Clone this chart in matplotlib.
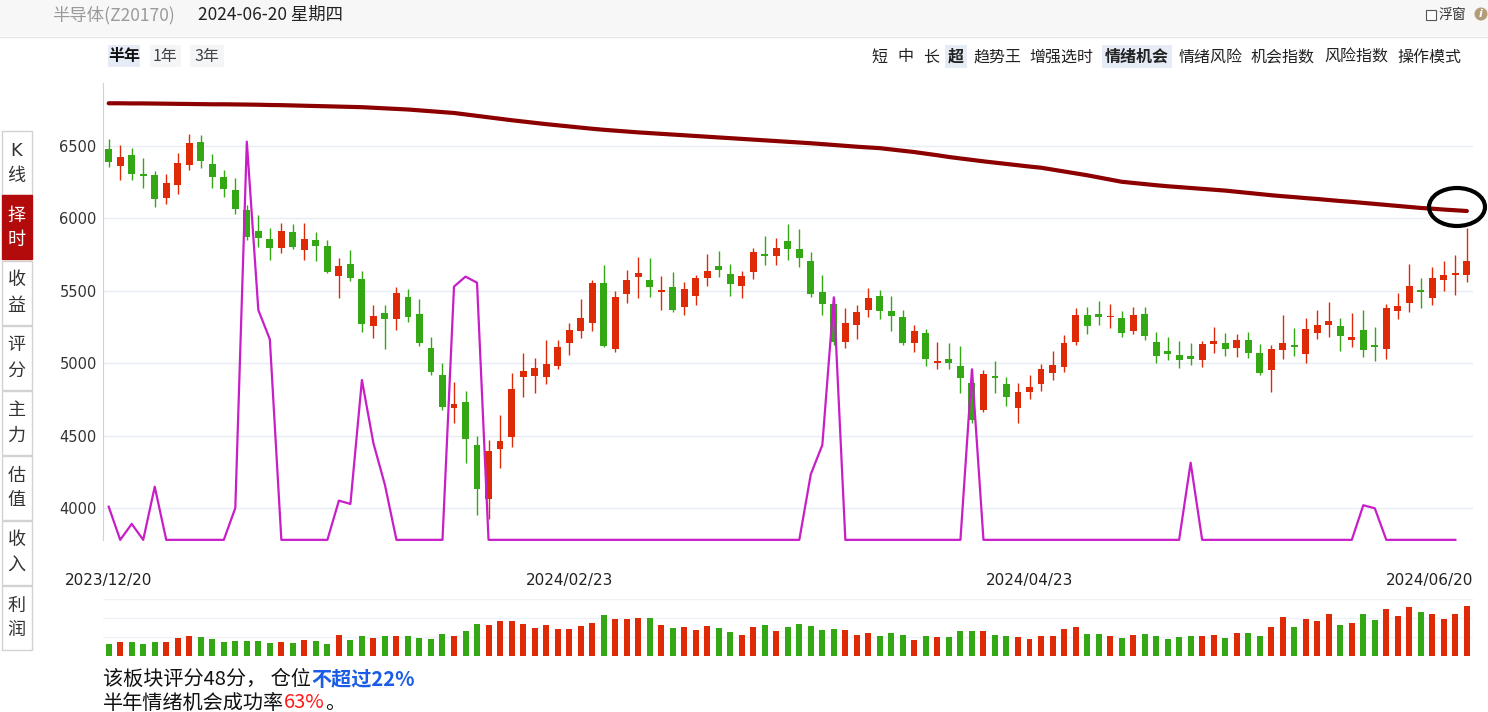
import matplotlib
matplotlib.use("Agg")
import matplotlib.pyplot as plt
import matplotlib.transforms as mtransforms
from matplotlib.patches import Rectangle, Ellipse
from matplotlib.lines import Line2D

plt.rcParams['font.family'] = ['Noto Sans CJK SC', 'DejaVu Sans']

# ---- data ----
dates = ["2023/12/20", "2024/02/23", "2024/04/23", "2024/06/20"]
date_idx = [0, 40, 80, 118]

opens = [6477, 6364, 6436, 6298, 6297, 6143, 6233, 6371, 6525, 6373,
         6284, 6196, 6058, 5913, 5855, 5798, 5904, 5782, 5849, 5809,
         5604, 5685, 5579, 5259, 5344, 5303, 5455, 5337, 5103, 4916,
         4693, 4730, 4433, 4064, 4405, 4493, 4907, 4914, 4907, 4983,
         5142, 5225, 5280, 5554, 5100, 5480, 5598, 5575, 5494, 5526,
         5390, 5466, 5591, 5671, 5616, 5535, 5632, 5756, 5743, 5844,
         5789, 5706, 5492, 5409, 5149, 5266, 5370, 5462, 5361, 5317,
         5137, 5206, 5004, 5029, 4981, 4863, 4679, 4912, 4856, 4693,
         4803, 4854, 4935, 4976, 5149, 5331, 5337, 5318, 5310, 5225,
         5337, 5144, 5082, 5054, 5047, 5024, 5135, 5137, 5107, 5158,
         5068, 4951, 5089, 5123, 5066, 5211, 5266, 5255, 5163, 5227,
         5123, 5096, 5358, 5413, 5506, 5453, 5577, 5611, 5611]
highs = [6546, 6505, 6484, 6415, 6327, 6304, 6452, 6583, 6574, 6445,
         6334, 6277, 6093, 6024, 5931, 5966, 5962, 5966, 5904, 5851,
         5724, 5782, 5635, 5400, 5400, 5526, 5510, 5443, 5179, 4999,
         4868, 4808, 4497, 4470, 4642, 4930, 5068, 5034, 5160, 5160,
         5275, 5443, 5575, 5678, 5499, 5644, 5733, 5727, 5602, 5630,
         5561, 5609, 5754, 5775, 5685, 5637, 5796, 5878, 5865, 5961,
         5927, 5768, 5609, 5459, 5381, 5402, 5519, 5506, 5464, 5367,
         5262, 5236, 5144, 5140, 5119, 4958, 4951, 5015, 4905, 4861,
         4919, 4994, 5084, 5192, 5381, 5386, 5430, 5409, 5361, 5386,
         5386, 5213, 5179, 5151, 5137, 5151, 5250, 5206, 5199, 5213,
         5130, 5123, 5331, 5241, 5310, 5367, 5423, 5312, 5347, 5367,
         5250, 5409, 5483, 5685, 5588, 5662, 5706, 5747, 5936]
lows = [6357, 6265, 6265, 6212, 6081, 6099, 6169, 6334, 6348, 6212,
        6150, 6027, 5851, 5805, 5713, 5763, 5789, 5713, 5708, 5621,
        5453, 5568, 5217, 5176, 5096, 5232, 5287, 5121, 4921, 4679,
        4589, 4313, 3954, 3922, 4274, 4424, 4769, 4792, 4854, 4958,
        5057, 5172, 5225, 5114, 5080, 5418, 5453, 5459, 5367, 5356,
        5335, 5402, 5535, 5598, 5466, 5453, 5584, 5680, 5680, 5713,
        5667, 5459, 5335, 5126, 5107, 5169, 5321, 5308, 5225, 5126,
        5080, 4983, 4962, 4962, 4792, 4585, 4665, 4797, 4707, 4585,
        4753, 4810, 4886, 4942, 5126, 5204, 5266, 5245, 5183, 5204,
        5163, 5004, 5024, 4969, 4990, 4976, 5073, 5052, 5045, 5038,
        4921, 4803, 5031, 5052, 5004, 5169, 5183, 5087, 5114, 5045,
        5017, 5031, 5308, 5356, 5384, 5404, 5501, 5473, 5563]
closes = [6392, 6422, 6309, 6296, 6136, 6242, 6380, 6518, 6399, 6288,
          6205, 6067, 5874, 5867, 5798, 5913, 5805, 5855, 5812, 5628,
          5671, 5591, 5268, 5324, 5303, 5483, 5321, 5142, 4942, 4700,
          4718, 4474, 4129, 4394, 4463, 4820, 4946, 4965, 4994, 5112,
          5229, 5310, 5554, 5121, 5457, 5575, 5623, 5529, 5498, 5370,
          5510, 5588, 5637, 5646, 5549, 5602, 5766, 5743, 5796, 5789,
          5729, 5480, 5411, 5149, 5278, 5351, 5448, 5363, 5328, 5142,
          5220, 5031, 5015, 5004, 4900, 4610, 4925, 4896, 4764, 4799,
          4833, 4958, 4985, 5137, 5331, 5259, 5321, 5322, 5211, 5331,
          5190, 5052, 5066, 5020, 5031, 5130, 5151, 5100, 5158, 5073,
          4935, 5096, 5137, 5110, 5234, 5262, 5289, 5190, 5179, 5093,
          5110, 5379, 5393, 5531, 5489, 5586, 5607, 5623, 5704]

# long moving average (dark red curve)
ma_line = [6795, 6795, 6794, 6794, 6793, 6792, 6791, 6790, 6789, 6788,
           6788, 6787, 6786, 6785, 6783, 6782, 6780, 6778, 6776, 6774,
           6772, 6770, 6768, 6764, 6760, 6756, 6752, 6746, 6740, 6734,
           6728, 6718, 6708, 6698, 6688, 6678, 6669, 6660, 6651, 6643,
           6635, 6627, 6619, 6612, 6606, 6600, 6594, 6589, 6584, 6579,
           6574, 6569, 6564, 6559, 6554, 6549, 6544, 6539, 6534, 6529,
           6524, 6519, 6513, 6507, 6501, 6495, 6490, 6485, 6476, 6467,
           6458, 6447, 6436, 6424, 6414, 6404, 6394, 6385, 6376, 6367,
           6358, 6350, 6337, 6324, 6311, 6298, 6283, 6268, 6253, 6245,
           6237, 6229, 6222, 6216, 6210, 6204, 6198, 6192, 6184, 6176,
           6168, 6160, 6153, 6147, 6140, 6134, 6127, 6120, 6114, 6107,
           6100, 6093, 6086, 6079, 6072, 6067, 6061, 6056, 6051]

# 情绪机会 indicator (magenta), drawn on the price scale
mood = [4009, 3780, 3890, 3780, 4147, 3780, 3780, 3780, 3780, 3780,
        3780, 4000, 6530, 5367, 5165, 3780, 3780, 3780, 3780, 3780,
        4051, 4028, 4884, 4447, 4159, 3780, 3780, 3780, 3780, 3780,
        5529, 5598, 5556, 3780, 3780, 3780, 3780, 3780, 3780, 3780,
        3780, 3780, 3780, 3780, 3780, 3780, 3780, 3780, 3780, 3780,
        3780, 3780, 3780, 3780, 3780, 3780, 3780, 3780, 3780, 3780,
        3780, 4233, 4435, 5455, 3780, 3780, 3780, 3780, 3780, 3780,
        3780, 3780, 3780, 3780, 3780, 4958, 3780, 3780, 3780, 3780,
        3780, 3780, 3780, 3780, 3780, 3780, 3780, 3780, 3780, 3780,
        3780, 3780, 3780, 3780, 4313, 3780, 3780, 3780, 3780, 3780,
        3780, 3780, 3780, 3780, 3780, 3780, 3780, 3780, 3780, 4019,
        3998, 3780, 3780, 3780, 3780, 3780, 3780, 3780]

volume = [12, 14, 14, 12, 14, 14, 18, 20, 19, 17,
          14, 15, 15, 15, 13, 14, 13, 16, 15, 12,
          21, 16, 20, 18, 20, 20, 20, 18, 17, 22,
          20, 25, 32, 31, 35, 35, 32, 28, 31, 27,
          27, 30, 33, 41, 37, 37, 38, 38, 31, 28,
          29, 26, 30, 28, 24, 21, 29, 31, 25, 29,
          32, 30, 26, 27, 26, 21, 23, 20, 23, 21,
          16, 20, 19, 19, 25, 25, 25, 21, 20, 19,
          17, 20, 20, 27, 29, 22, 22, 20, 18, 21,
          22, 20, 17, 19, 20, 20, 21, 18, 23, 23,
          20, 29, 39, 29, 37, 35, 42, 31, 33, 42,
          36, 47, 40, 49, 44, 42, 37, 42, 50]

price_ticks = [4000, 4500, 5000, 5500, 6000, 6500]
tabs = ["K线", "择时", "收益", "评分", "主力", "估值", "收入", "利润"]
periods = ["半年", "1年", "3年"]
menu = ["短", "中", "长", "超", "趋势王", "增强选时", "情绪机会", "情绪风险", "机会指数", "风险指数", "操作模式"]

RED = "#de2a06"
GREEN = "#33a814"
W, H = 1488, 712


def fx(x):
    return x / W


def fy(y):
    return 1 - y / H


fig = plt.figure(figsize=(W / 100, H / 100), dpi=100)

# header band
fig.add_artist(Rectangle((0, fy(36)), 1, 36 / H, transform=fig.transFigure,
                         facecolor="#f7f7f7", edgecolor="none", zorder=0))
fig.add_artist(Line2D([0, 1], [fy(36.5), fy(36.5)], transform=fig.transFigure, color="#e6e6e6", lw=1))
fig.text(fx(52), fy(15), "半导体(Z20170)", fontsize=12.5, color="#9a9a9a", va="center")
fig.text(fx(198), fy(15), "2024-06-20 星期四", fontsize=12.5, color="#222222", va="center")
fig.add_artist(Rectangle((fx(1426), fy(20)), 10 / W, 10 / H, transform=fig.transFigure,
                         facecolor="white", edgecolor="#555555", lw=0.8))
fig.text(fx(1438), fy(15), "浮窗", fontsize=10, color="#333333", va="center")
fig.add_artist(Ellipse((fx(1481), fy(14)), 13 / W, 13 / H, transform=fig.transFigure,
                       facecolor="#b39c78", edgecolor="none"))
fig.text(fx(1481), fy(14), "i", fontsize=8, color="white", fontweight="bold", ha="center", va="center",
         style="italic", family=["DejaVu Sans"])

# period buttons
for label, x0, x1, bg in zip(periods, [108, 150, 190], [140, 181, 224], ["#e6ecf6", "#f4f5f7", "#f4f5f7"]):
    fig.add_artist(Rectangle((fx(x0), fy(67)), (x1 - x0) / W, 22 / H, transform=fig.transFigure,
                             facecolor=bg, edgecolor="none"))
    fig.text(fx((x0 + x1) / 2), fy(56), label, fontsize=11.5, ha="center", va="center",
             color="#111111" if label == "半年" else "#444444",
             fontweight="bold" if label == "半年" else "normal")

# right menu
menu_x = [871, 897, 923, 948, 973, 1029, 1105, 1179, 1251, 1324, 1397]
for label, x0 in zip(menu, menu_x):
    active = label in ("超", "情绪机会")
    wpx = 16 * len(label)
    if active:
        fig.add_artist(Rectangle((fx(x0 - 3), fy(68)), (wpx + 6) / W, 23 / H, transform=fig.transFigure,
                                 facecolor="#e6ecf6", edgecolor="none"))
    fig.text(fx(x0), fy(57), label, fontsize=11.5, va="center", color="#222222",
             fontweight="bold" if active else "normal")

# left tabs
for k, label in enumerate(tabs):
    top = 130.5 + 65 * k
    active = label == "择时"
    fig.add_artist(Rectangle((fx(1.5), fy(top + 64)), 30.5 / W, 64 / H, transform=fig.transFigure,
                             facecolor="#b30b0b" if active else "white",
                             edgecolor="#b30b0b" if active else "#d2d2d2", lw=1))
    col = "white" if active else "#333333"
    fig.text(fx(16.5), fy(top + 20), label[0], fontsize=13, color=col, ha="center", va="center",
             family=["DejaVu Sans"] if label[0] == "K" else None)
    fig.text(fx(16.5), fy(top + 45), label[1], fontsize=13, color=col, ha="center", va="center")

# ---- price panel ----
x_left = (103 - 108.7) / 11.51
x_right = (1473 - 108.7) / 11.51
ax = fig.add_axes([fx(103), fy(540), (1473 - 103) / W, (540 - 83) / H])
ax.set_xlim(x_left, x_right)
ax.set_ylim(3779, 6935)
for s in ["top", "right", "bottom"]:
    ax.spines[s].set_visible(False)
ax.spines["left"].set_color("#c7d4e8")
ax.set_xticks([])
ax.set_yticks(price_ticks)
ax.set_yticklabels([str(v) for v in price_ticks], family="DejaVu Sans", fontsize=10.5, color="#333333")
ax.tick_params(axis="y", length=0, pad=4.5)
ax.grid(axis="y", color="#e8edf3", lw=1)
ax.set_axisbelow(True)

idx = list(range(len(opens)))
colors = [RED if c >= o else GREEN for o, c in zip(opens, closes)]
ax.vlines(idx, lows, highs, colors=colors, lw=1.0, zorder=2)
bottoms = [min(o, c) for o, c in zip(opens, closes)]
heights = [max(abs(c - o), 9) for o, c in zip(opens, closes)]
ax.bar(idx, heights, bottom=bottoms, width=0.6, color=colors, zorder=3)

ax.plot(range(len(ma_line)), ma_line, color="#8c0000", lw=3.0, zorder=4, solid_capstyle="round")
ax.plot(range(len(mood)), mood, color="#c81ec8", lw=1.6, zorder=5, clip_on=False)

# black circle marker at the end of the curve
fig.add_artist(Ellipse((fx(1457), fy(207)), 56 / W, 38 / H, transform=fig.transFigure,
                       facecolor="none", edgecolor="black", lw=3.0, zorder=10))

# date labels
tr = mtransforms.blended_transform_factory(ax.transData, fig.transFigure)
for d, i in zip(dates, date_idx):
    if i == date_idx[-1]:
        ax.text(x_right, fy(580), d, transform=tr, ha="right", va="center", fontsize=11,
                family="DejaVu Sans", color="#222222")
    else:
        ax.text(i, fy(580), d, transform=tr, ha="center", va="center", fontsize=11,
                family="DejaVu Sans", color="#222222")

# ---- volume panel ----
vax = fig.add_axes([fx(103), fy(656), (1473 - 103) / W, (656 - 599) / H])
vax.set_xlim(x_left, x_right)
vax.set_ylim(0, 57)
for s in vax.spines.values():
    s.set_visible(False)
vax.set_xticks([])
vax.set_yticks([19, 38, 57])
vax.set_yticklabels([])
vax.tick_params(length=0)
vax.grid(axis="y", color="#eef2f7", lw=1)
vax.set_axisbelow(True)
vax.bar(idx, volume, width=0.52, color=colors)

# ---- summary text ----
renderer = fig.canvas.get_renderer()


def text_run(x, y, parts):
    for s, col, wt in parts:
        t = fig.text(fx(x), fy(y), s, fontsize=14.5, color=col, fontweight=wt, va="center", ha="left")
        x = t.get_window_extent(renderer=renderer).x1


text_run(103, 679, [("该板块评分48分， 仓位", "#111111", "normal"),
                    ("不超过22%", "#1a5ce6", "bold")])
text_run(103, 703, [("半年情绪机会成功率", "#111111", "normal"),
                    ("63%", "#ff1a1a", "normal"),
                    ("。", "#111111", "normal")])

fig.savefig("out.png", dpi=100)
